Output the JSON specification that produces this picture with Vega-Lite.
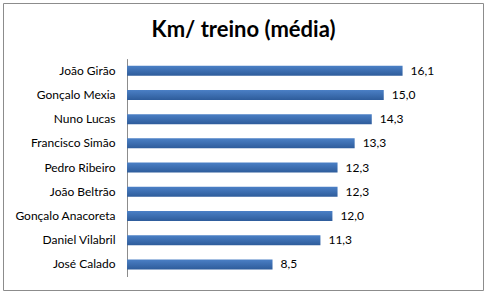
{
  "$schema": "https://vega.github.io/schema/vega-lite/v6.json",
  "width": 480,
  "height": 287,
  "padding": 3,
  "autosize": {"type": "none"},
  "background": "white",
  "config": {
    "view": {"stroke": "#8c8c8c", "strokeWidth": 1},
    "locale": {"number": {"decimal": ",", "thousands": ".", "grouping": [3], "currency": ["", " €"]}},
    "font": "Lato"
  },
  "data": {
    "values": [
      {"nome": "João Girão", "km": 16.1},
      {"nome": "Gonçalo Mexia", "km": 15.0},
      {"nome": "Nuno Lucas", "km": 14.3},
      {"nome": "Francisco Simão", "km": 13.3},
      {"nome": "Pedro Ribeiro", "km": 12.3},
      {"nome": "João Beltrão", "km": 12.3},
      {"nome": "Gonçalo Anacoreta", "km": 12.0},
      {"nome": "Daniel Vilabril", "km": 11.3},
      {"nome": "José Calado", "km": 8.5}
    ]
  },
  "encoding": {
    "y": {
      "field": "nome",
      "type": "nominal",
      "sort": null,
      "scale": {"range": [55.6, 273.5], "paddingInner": 0.587, "paddingOuter": 0.2935},
      "axis": {
        "title": null,
        "offset": -124,
        "ticks": false,
        "tickSize": 0,
        "labelPadding": 12,
        "labelFont": "Lato",
        "labelFontSize": 12,
        "labelColor": "#000000",
        "domainColor": "#8c8c8c",
        "grid": false
      }
    },
    "x": {
      "field": "km",
      "type": "quantitative",
      "scale": {"domain": [-7.25, 20.8], "nice": false},
      "axis": {
        "orient": "top",
        "title": "Km/ treino (média)",
        "titleFont": "Lato",
        "titleFontSize": 22,
        "titleFontWeight": "bold",
        "titleColor": "#000000",
        "titleBaseline": "alphabetic",
        "titlePadding": 0,
        "offset": -33,
        "labels": false,
        "ticks": false,
        "domain": false,
        "grid": false
      }
    }
  },
  "layer": [
    {
      "mark": {
        "type": "bar",
        "color": {
          "gradient": "linear",
          "x1": 0, "y1": 0, "x2": 0, "y2": 1,
          "stops": [
            {"offset": 0, "color": "#4b80c6"},
            {"offset": 1, "color": "#2e5c9b"}
          ]
        }
      }
    },
    {
      "mark": {"type": "text", "align": "left", "dx": 8, "fontSize": 12, "font": "Lato", "color": "#000000"},
      "encoding": {"text": {"field": "km", "type": "quantitative", "format": ".1f"}}
    }
  ]
}
